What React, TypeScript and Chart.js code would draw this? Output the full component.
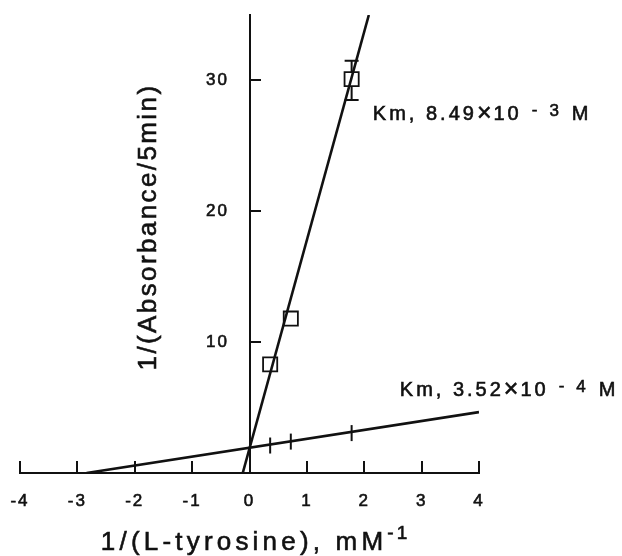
import React, { useEffect, useRef } from 'react';
import { Chart, registerables } from 'chart.js';

Chart.register(...registerables);

// ---------- data ----------
const xTickValues = [-4, -3, -2, -1, 0, 1, 2, 3, 4];
const yTickValues = [10, 20, 30];
const xMin = -4;
const xMax = 4;
const yMin = 0;
const yMax = 35;

// 1/[L-tyrosine] (mM^-1) of the measured points
const inverseTyrosine = [0.36, 0.72, 1.78];
// series shown with open squares (steep line)
const inverseRateSquares = [8.3, 11.8, 30.1];
const squareErrorLow: (number | null)[] = [null, null, 28.5];
const squareErrorHigh: (number | null)[] = [null, null, 31.5];
// series shown with vertical tick marks (shallow line)
const inverseRateTicks = [2.1, 2.4, 3.05];

// regression lines (end points)
const fitSteepX = [-0.118, 2.08];
const fitSteepY = [0, 35];
const fitShallowX = [-2.84, 4];
const fitShallowY = [0, 4.65];

// texts
const xTitleMain = '1/(L-tyrosine), mM';
const xTitleExponent = '-1';
const yTitle = '1/(Absorbance/5min)';
const kmSteepMantissa = ['Km, 8.49', '×', '10'];
const kmSteepExponent = ['-', '3'];
const kmShallowMantissa = ['Km, 3.52', '×', '10'];
const kmShallowExponent = ['-', '4'];
const kmUnit = 'M';

// label anchors (data coordinates)
const kmSteepAnchor = { x: 2.15, y: 27.0 };
const kmShallowAnchor = { x: 2.62, y: 5.88 };

// ---------- style ----------
const FONT = "'Liberation Sans', Arial, Helvetica, sans-serif";
const INK = '#111111';
const TEXT_STROKE = 0.6;

type Seg = { text: string; size: number; rise?: number; gap?: number; spacing?: number };

function drawSegs(ctx: CanvasRenderingContext2D, segs: Seg[], x: number, y: number) {
  let cx = x;
  for (const s of segs) {
    ctx.font = `${s.size}px ${FONT}`;
    (ctx as any).letterSpacing = `${s.spacing ?? 0}px`;
    cx += s.gap ?? 0;
    ctx.fillText(s.text, cx, y - (s.rise ?? 0));
    ctx.strokeText(s.text, cx, y - (s.rise ?? 0));
    cx += ctx.measureText(s.text).width;
  }
}

function measureSegs(ctx: CanvasRenderingContext2D, segs: Seg[]) {
  let w = 0;
  for (const s of segs) {
    ctx.font = `${s.size}px ${FONT}`;
    (ctx as any).letterSpacing = `${s.spacing ?? 0}px`;
    w += (s.gap ?? 0) + ctx.measureText(s.text).width;
  }
  return w;
}

function kmSegs(mantissa: string[], exponent: string[]): Seg[] {
  return [
    { text: mantissa[0], size: 20, spacing: 3.0 },
    { text: mantissa[1], size: 25, rise: -1, gap: 0, spacing: 1 },
    { text: mantissa[2], size: 20, gap: 1, spacing: 3.0 },
    { text: exponent[0], size: 17, rise: 5, gap: 10, spacing: 0 },
    { text: exponent[1], size: 17, rise: 4, gap: 12, spacing: 0 },
    { text: kmUnit, size: 20, gap: 13, spacing: 0 },
  ];
}

const SQUARE_RADIUS = 10;

const annotationPlugin = {
  id: 'lbAnnotations',
  beforeLayout(chart: any) {
    (chart.ctx as any).letterSpacing = '2px';
  },
  beforeDraw(chart: any) {
    (chart.ctx as any).letterSpacing = '2px';
  },
  afterDatasetsDraw(chart: any) {
    const { ctx, scales } = chart;
    const xs = scales.x;
    const ys = scales.y;
    const half = SQUARE_RADIUS * Math.SQRT1_2;
    ctx.save();
    ctx.strokeStyle = INK;
    ctx.lineWidth = 2;
    inverseTyrosine.forEach((xv, i) => {
      const lo = squareErrorLow[i];
      const hi = squareErrorHigh[i];
      if (lo == null || hi == null) return;
      const px = xs.getPixelForValue(xv);
      const pyPt = ys.getPixelForValue(inverseRateSquares[i]);
      const pyLo = ys.getPixelForValue(lo);
      const pyHi = ys.getPixelForValue(hi);
      ctx.beginPath();
      ctx.moveTo(px, pyHi);
      ctx.lineTo(px, pyPt - half);
      ctx.moveTo(px, pyPt + half);
      ctx.lineTo(px, pyLo);
      ctx.moveTo(px - 7, pyHi);
      ctx.lineTo(px + 7, pyHi);
      ctx.moveTo(px - 7, pyLo);
      ctx.lineTo(px + 7, pyLo);
      ctx.stroke();
    });
    ctx.restore();
  },
  afterDraw(chart: any) {
    const { ctx, scales, chartArea } = chart;
    const xs = scales.x;
    const ys = scales.y;
    ctx.save();
    ctx.fillStyle = INK;
    ctx.strokeStyle = INK;
    ctx.lineWidth = TEXT_STROKE;
    ctx.textAlign = 'left';
    ctx.textBaseline = 'alphabetic';

    // Km labels
    drawSegs(ctx, kmSegs(kmSteepMantissa, kmSteepExponent), xs.getPixelForValue(kmSteepAnchor.x), ys.getPixelForValue(kmSteepAnchor.y));
    drawSegs(ctx, kmSegs(kmShallowMantissa, kmShallowExponent), xs.getPixelForValue(kmShallowAnchor.x), ys.getPixelForValue(kmShallowAnchor.y));

    // x title with superscript
    const xSegs: Seg[] = [
      { text: xTitleMain, size: 26, spacing: 4.2 },
      { text: xTitleExponent, size: 19, rise: 11, gap: 0, spacing: 3 },
    ];
    const w = measureSegs(ctx, xSegs);
    const cx = (chartArea.left + chartArea.right) / 2;
    drawSegs(ctx, xSegs, cx - w / 2 + 6, 550);

    // y title, rotated
    ctx.translate(149, 227);
    ctx.rotate(-Math.PI / 2);
    ctx.font = `26px ${FONT}`;
    (ctx as any).letterSpacing = '2.4px';
    ctx.textAlign = 'center';
    ctx.textBaseline = 'middle';
    ctx.fillText(yTitle, 0, 0);
    ctx.strokeText(yTitle, 0, 0);
    ctx.restore();
  },
};

export default function App() {
  const canvasRef = useRef<HTMLCanvasElement | null>(null);

  useEffect(() => {
    const canvas = canvasRef.current;
    if (!canvas) return;

    const chart = new Chart(canvas, {
      type: 'scatter',
      data: {
        datasets: [
          {
            label: 'fit (squares)',
            data: fitSteepX.map((x, i) => ({ x, y: fitSteepY[i] })),
            showLine: true,
            borderColor: INK,
            borderWidth: 2.6,
            pointRadius: 0,
            fill: false,
          },
          {
            label: 'fit (ticks)',
            data: fitShallowX.map((x, i) => ({ x, y: fitShallowY[i] })),
            showLine: true,
            borderColor: INK,
            borderWidth: 2.6,
            pointRadius: 0,
            fill: false,
          },
          {
            label: 'squares',
            data: inverseTyrosine.map((x, i) => ({ x, y: inverseRateSquares[i] })),
            showLine: false,
            pointStyle: 'rect',
            pointRadius: SQUARE_RADIUS,
            borderColor: INK,
            backgroundColor: 'rgba(0,0,0,0)',
            borderWidth: 1.8,
          },
          {
            label: 'ticks',
            data: inverseTyrosine.map((x, i) => ({ x, y: inverseRateTicks[i] })),
            showLine: false,
            pointStyle: 'line',
            pointRotation: 90,
            pointRadius: 8,
            borderColor: INK,
            borderWidth: 2,
          },
        ],
      },
      options: {
        responsive: false,
        maintainAspectRatio: false,
        devicePixelRatio: 1,
        animation: false,
        events: [],
        layout: { padding: { left: 20, right: 143, top: 15, bottom: 15 } },
        plugins: {
          legend: { display: false },
          tooltip: { enabled: false },
          title: { display: false },
        },
        scales: {
          x: {
            type: 'linear',
            position: 'bottom',
            min: xMin,
            max: xMax,
            afterBuildTicks: (s: any) => {
              s.ticks = xTickValues.map((v) => ({ value: v }));
            },
            grid: {
              drawOnChartArea: false,
              drawTicks: true,
              tickLength: -12,
              tickWidth: 2,
              tickColor: INK,
              color: INK,
              lineWidth: 2,
            },
            border: { display: true, color: INK, width: 2 },
            ticks: {
              color: INK,
              textStrokeColor: INK,
              textStrokeWidth: TEXT_STROKE,
              font: { size: 17, family: FONT, lineHeight: 64 / 17 },
              padding: 8,
              maxRotation: 0,
              autoSkip: false,
            },
          },
          y: {
            type: 'linear',
            axis: 'y',
            position: { x: 0 },
            min: yMin,
            max: yMax,
            afterBuildTicks: (s: any) => {
              s.ticks = yTickValues.map((v) => ({ value: v }));
            },
            grid: {
              drawOnChartArea: false,
              drawTicks: true,
              tickLength: -12,
              tickWidth: 2,
              tickColor: INK,
              color: INK,
              lineWidth: 2,
            },
            border: { display: true, color: INK, width: 2 },
            ticks: { display: false },
          },
          yLabels: {
            type: 'linear',
            axis: 'y',
            position: { x: -0.36 },
            min: yMin,
            max: yMax,
            afterBuildTicks: (s: any) => {
              s.ticks = yTickValues.map((v) => ({ value: v }));
            },
            grid: { display: false, drawTicks: false },
            border: { display: false },
            ticks: {
              color: INK,
              textStrokeColor: INK,
              textStrokeWidth: TEXT_STROKE,
              font: { size: 17, family: FONT },
            },
          },
        } as any,
      },
      plugins: [annotationPlugin as any],
    } as any);

    return () => chart.destroy();
  }, []);

  return (
    <div
      style={{
        position: 'fixed',
        left: 0,
        top: 0,
        width: 622,
        height: 556,
        background: '#ffffff',
      }}
    >
      <canvas ref={canvasRef} width={622} height={556} style={{ display: 'block' }} />
    </div>
  );
}
